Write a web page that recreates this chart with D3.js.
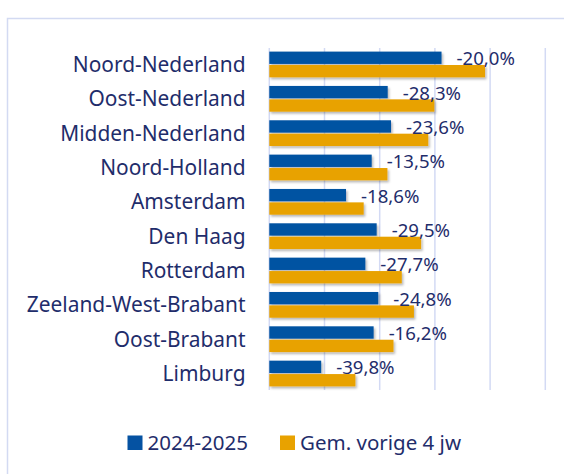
<!DOCTYPE html>
<html><head><meta charset="utf-8">
<script src="https://cdn.jsdelivr.net/npm/d3@7"></script>
<style>
html,body{margin:0;padding:0;background:#fff;}
svg{display:block;}
text{font-family:"Noto Sans","Open Sans",sans-serif;fill:#1f2d6b;}
</style></head>
<body>
<script>
const categories = ["Noord-Nederland","Oost-Nederland","Midden-Nederland","Noord-Holland","Amsterdam","Den Haag","Rotterdam","Zeeland-West-Brabant","Oost-Brabant","Limburg"];
const seriesNames = ["2024-2025","Gem. vorige 4 jw"];
const current = [312, 214.5, 220.5, 185.5, 139, 194.5, 174, 197.5, 189, 94];
const previous = [390.8, 299, 288, 214, 171, 275, 240, 262, 225, 156];
const changeLabels = ["-20,0%","-28,3%","-23,6%","-13,5%","-18,6%","-29,5%","-27,7%","-24,8%","-16,2%","-39,8%"];
const gridTicks = [0,100,200,300,400,500];
const colors = ["#0552a2","#e8a200"];

const W = 564, H = 474;
const svg = d3.select("body").append("svg").attr("width", W).attr("height", H);

const defs = svg.append("defs");
const f = defs.append("filter").attr("id","sh").attr("x","-10%").attr("y","-30%").attr("width","130%").attr("height","180%");
f.append("feDropShadow").attr("dx",1.5).attr("dy",2).attr("stdDeviation",1.2).attr("flood-color","#000").attr("flood-opacity",0.28);

// frame
svg.append("path").attr("d","M7.5,480 L7.5,18.5 L570,18.5").attr("fill","none").attr("stroke","#d3daf2").attr("stroke-width",1.5);

const x = d3.scaleLinear().domain([0,500]).range([269.3,545.3]);
const y = d3.scaleBand().domain(categories).range([47.3,390.7]).paddingInner(0.25).paddingOuter(0.125);
const ySub = d3.scaleBand().domain(seriesNames).range([0,y.bandwidth()]).paddingInner(0.08);

// gridlines
svg.append("g").selectAll("line").data(gridTicks).join("line")
  .attr("x1",d=>x(d)).attr("x2",d=>x(d)).attr("y1",48).attr("y2",390)
  .attr("stroke","#d3daf4").attr("stroke-width",1.5);

const data = categories.map((c,i)=>({c, vals:[current[i],previous[i]], label:changeLabels[i]}));

const g = svg.append("g").attr("filter","url(#sh)");
data.forEach(d=>{
  d.vals.forEach((v,j)=>{
    g.append("rect").attr("x",x(0)).attr("y",y(d.c)+ySub(seriesNames[j]))
      .attr("width",x(v)-x(0)).attr("height",ySub.bandwidth()).attr("fill",colors[j]);
  });
});

// value labels
svg.append("g").selectAll("text").data(data).join("text")
  .attr("x",d=>x(d.vals[0])+15).attr("y",d=>y(d.c)+ySub(seriesNames[0])+ySub.bandwidth()+1.5)
  .attr("font-size",18.6).text(d=>d.label);

// category labels
svg.append("g").selectAll("text").data(categories).join("text")
  .attr("x",245.5).attr("y",d=>y(d)+y.bandwidth()/2+7.5)
  .attr("text-anchor","end").attr("font-size",20.9).text(d=>d);

// legend
const leg = [{x:127.5,tx:147.5},{x:280,tx:300}];
seriesNames.forEach((s,i)=>{
  svg.append("rect").attr("x",leg[i].x).attr("y",435.5).attr("width",15).attr("height",14.5).attr("fill",colors[i]);
  svg.append("text").attr("x",leg[i].tx).attr("y",449.5).attr("font-size",20.5).text(s);
});
</script>
</body></html>
